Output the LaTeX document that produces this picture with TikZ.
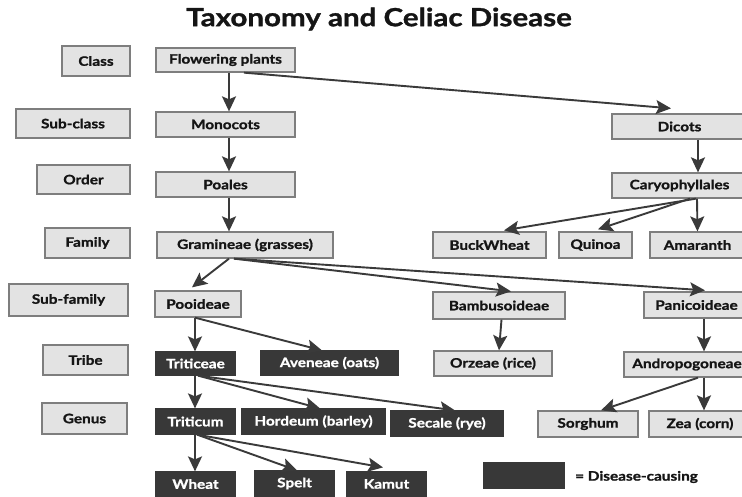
\documentclass[tikz,border=0pt]{standalone}
\usepackage{fontspec}
\setmainfont{Lato}[FakeStretch=1.18, BoldFeatures={FakeBold=1.2}]
\usetikzlibrary{arrows.meta}
\definecolor{lightfill}{HTML}{E3E3E3}
\definecolor{lightdraw}{HTML}{7E7E7E}
\definecolor{darkfill}{HTML}{383838}
\definecolor{arrowcol}{HTML}{3A3A3A}
\definecolor{txt}{HTML}{151515}
\tikzset{
  lbox/.style={draw=lightdraw, fill=lightfill, line width=1.3pt, inner sep=0pt,
    text=txt, font=\fontsize{13}{15}\selectfont\bfseries},
  dbox/.style={draw=darkfill, fill=darkfill, line width=1.2pt, inner sep=0pt,
    text=white, font=\fontsize{13}{15}\selectfont\bfseries},
  arr/.style={draw=arrowcol, line width=1.9pt,
    -{Stealth[length=15pt, width=14pt, inset=3pt]}},
}
\newcommand{\bx}[6]{\node[#1, minimum width=#4pt, minimum height=#5pt] (#2) at (#3) {#6};}
\begin{document}
\begin{tikzpicture}[x=1pt, y=-1pt]
\useasboundingbox (0,0) rectangle (742,496);
\fill[white] (0,0) rectangle (742,496);
\node[font=\fontsize{25}{28}\selectfont\bfseries, text=txt] (title) at (379,19) {Taxonomy and Celiac Disease};
% left labels
\bx{lbox}{cls}{96,61}{68}{30}{Class}
\bx{lbox}{subcls}{73,123.5}{114}{29}{Sub-class}
\bx{lbox}{ord}{83.5,179.5}{93}{29}{Order}
\bx{lbox}{fam}{87.5,243}{85}{30}{Family}
\bx{lbox}{subfam}{68.5,300}{119}{32}{Sub-family}
\bx{lbox}{tribe}{85.5,360}{85}{30}{Tribe}
\bx{lbox}{genus}{84.5,418.5}{85}{31}{Genus}
% main column
\bx{lbox}{flow}{225.5,60}{139}{24}{Flowering plants}
\bx{lbox}{mono}{225.5,124.5}{139}{25}{Monocots}
\bx{lbox}{poales}{225.5,184.5}{139}{25}{Poales}
\bx{lbox}{gram}{245,245}{176}{26}{Gramineae (grasses)}
\bx{lbox}{pooid}{198,304}{86}{26}{Pooideae}
\bx{dbox}{tritic}{195.5,363.5}{79}{23}{Triticeae}
\bx{dbox}{aven}{329.5,363}{137}{24}{Aveneae (oats)}
\bx{dbox}{triticum}{195.5,421.5}{79}{25}{Triticum}
\bx{dbox}{hord}{313.5,421.5}{143}{25}{Hordeum (barley)}
\bx{dbox}{secale}{447,423.5}{112}{25}{Secale (rye)}
\bx{dbox}{wheat}{195.5,484}{79}{24}{Wheat}
\bx{dbox}{spelt}{294.5,483.5}{79}{25}{Spelt}
\bx{dbox}{kamut}{386.5,484}{79}{24}{Kamut}
% right side
\bx{lbox}{dicots}{679.5,126.5}{135}{25}{Dicots}
\bx{lbox}{caryo}{679.5,185.5}{135}{25}{Caryophyllales}
\bx{lbox}{buck}{489.5,245}{113}{26}{BuckWheat}
\bx{lbox}{quinoa}{595.5,245}{73}{26}{Quinoa}
\bx{lbox}{amar}{697.5,245}{95}{26}{Amaranth}
\bx{lbox}{bamb}{499,305.5}{132}{27}{Bambusoideae}
\bx{lbox}{orz}{493,363.5}{118}{25}{Orzeae (rice)}
\bx{lbox}{panic}{696.5,305}{105}{26}{Panicoideae}
\bx{lbox}{andro}{687,364.5}{126}{25}{Andropogoneae}
\bx{lbox}{sorghum}{588,424}{100}{26}{Sorghum}
\bx{lbox}{zea}{700,424}{102}{26}{Zea (corn)}
% legend
\bx{dbox}{legend}{524,475.5}{80}{25}{}
\node[anchor=west, text=txt, font=\fontsize{13}{15}\selectfont\bfseries, inner sep=0pt] (legtext) at (575,477) {= Disease-causing};
% arrows
\draw[arr] ([xshift=3.5pt]flow.south) -- ([xshift=3.5pt]mono.north);
\draw[arr] ([xshift=18.5pt]flow.south) -- ([xshift=-8.5pt,yshift=5pt]dicots.north);
\draw[arr] ([xshift=3.5pt]mono.south) -- ([xshift=3.5pt]poales.north);
\draw[arr] ([xshift=3.5pt]poales.south) -- ([xshift=-16pt]gram.north);
\draw[arr] ([xshift=18.5pt]dicots.south) -- ([xshift=18.5pt]caryo.north);
\draw[arr] ([xshift=16.5pt]caryo.south) -- ([xshift=14.5pt,yshift=1pt]buck.north);
\draw[arr] ([xshift=10.5pt]caryo.south) -- ([xshift=2.5pt,yshift=2pt]quinoa.north);
\draw[arr] ([xshift=17.5pt]caryo.south) -- (amar.north);
\draw[arr] ([xshift=-16pt]gram.south) -- ([xshift=-6pt,yshift=3pt]pooid.north);
\draw[arr] ([xshift=-11pt]gram.south) -- ([xshift=12pt]bamb.north);
\draw[arr] ([xshift=-11pt]gram.south) -- ([xshift=8.5pt,yshift=1pt]panic.north);
\draw[arr] ([xshift=-3pt]pooid.south) -- ([xshift=-0.5pt]tritic.north);
\draw[arr] ([xshift=-3pt]pooid.south) -- ([xshift=-7.5pt]aven.north);
\draw[arr] ([xshift=-0.5pt]tritic.south) -- ([xshift=-0.5pt]triticum.north);
\draw[arr] ([xshift=2.5pt]tritic.south) -- ([xshift=6.5pt]hord.north);
\draw[arr] ([xshift=2.5pt]tritic.south) -- ([xshift=8pt]secale.north);
\draw[arr] ([xshift=-0.5pt]triticum.south) -- ([xshift=-0.5pt]wheat.north);
\draw[arr] ([xshift=1.5pt]triticum.south) -- ([xshift=2.5pt]spelt.north);
\draw[arr] ([xshift=1.5pt]triticum.south) -- ([xshift=-3.5pt,yshift=4pt]kamut.north);
\draw[arr] ([xshift=2.5pt]bamb.south) -- ([xshift=6pt]orz.north);
\draw[arr] ([xshift=7.5pt]panic.south) -- ([xshift=17pt]andro.north);
\draw[arr] ([xshift=11pt]andro.south) -- ([xshift=13pt]sorghum.north);
\draw[arr] ([xshift=17pt]andro.south) -- ([xshift=4pt]zea.north);
\end{tikzpicture}
\end{document}
